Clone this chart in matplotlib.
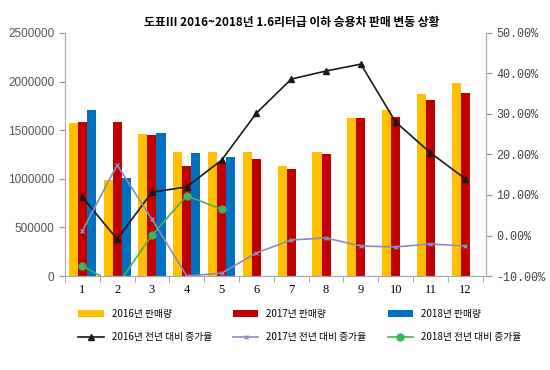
import matplotlib.pyplot as plt
import numpy as np

plt.rcParams['font.family'] = ['Noto Sans CJK KR', 'DejaVu Sans']

months = list(range(1, 13))
sales_2016 = [1574000, 988000, 1460000, 1276000, 1276000, 1280000, 1130000, 1280000, 1625000, 1710000, 1870000, 1985000]
sales_2017 = [1585000, 1585000, 1455000, 1130000, 1160000, 1200000, 1100000, 1260000, 1620000, 1640000, 1810000, 1880000]
sales_2018 = [1708000, 1008000, 1470000, 1265000, 1225000]
growth_2016 = [9.5, -0.9, 10.7, 12.0, 18.6, 30.2, 38.6, 40.6, 42.3, 28.0, 20.4, 14.0]
growth_2017 = [1.1, 17.4, 4.0, -10.0, -9.3, -4.3, -1.1, -0.6, -2.6, -2.8, -2.1, -2.6]
growth_2018 = [-7.5, -12.3, 0.1, 9.8, 6.5]

fig = plt.figure(figsize=(5.5, 3.7), dpi=100)
ax = fig.add_axes([0.118, 0.254, 0.766, 0.657])
ax2 = ax.twinx()

x = np.array(months)
w = 0.26
b16 = ax.bar(x - w, sales_2016, w, color='#FFC000', label='2016년 판매량')
b17 = ax.bar(x, sales_2017, w, color='#C00000', label='2017년 판매량')
b18 = ax.bar(x[:len(sales_2018)] + w, sales_2018, w, color='#0070C0', label='2018년 판매량')

l16, = ax2.plot(x, growth_2016, color='#1a1a1a', marker='^', ms=5, lw=1.2, label='2016년 전년 대비 증가율')
l17, = ax2.plot(x, growth_2017, color='#8C8CBE', marker='x', ms=3, lw=1.2, label='2017년 전년 대비 증가율')
l18, = ax2.plot(x[:len(growth_2018)], growth_2018, color='#4CAF50', marker='o', ms=5, lw=1.2,
                markerfacecolor='#3CB371', label='2018년 전년 대비 증가율')

ax.set_xlim(0.55, 12.6)
ax.set_ylim(0, 2500000)
yt = list(range(0, 2500001, 500000))
ax.set_yticks(yt)
ax.set_yticklabels([str(v) for v in yt], family='Liberation Sans')
ax.set_xticks(months)
ax.set_xticks(np.arange(0.5, 13, 1), minor=True)
ax.tick_params(axis='x', which='major', length=0, labelsize=8, pad=6)
ax.tick_params(axis='x', which='minor', length=4, color='#999999')
ax.tick_params(axis='y', labelsize=8.5, colors='#555555', color='#999999', length=4)
for lab in ax.get_xticklabels():
    lab.set_family('Liberation Serif')
    lab.set_fontsize(9)

ax2.set_ylim(-10, 50)
ax2.set_yticks(range(-10, 51, 10))
ax2.set_yticklabels(['%.2f%%' % v for v in range(-10, 51, 10)], family='Liberation Mono')
ax2.tick_params(axis='y', labelsize=8.5, colors='#444444', color='#999999', length=4)

for a in (ax, ax2):
    a.spines['top'].set_visible(False)
    for s in ('left', 'right', 'bottom'):
        a.spines[s].set_color('#aaaaaa')

fig.text(0.53, 0.94, '도표Ⅲ 2016~2018년 1.6리터급 이하 승용차 판매 변동 상황',
         ha='center', va='center', fontsize=8.5, fontweight='bold')

fig.legend([b16, l16, b17, l17, b18, l18],
           [h.get_label() for h in (b16, l16, b17, l17, b18, l18)],
           ncol=3, loc='center', bbox_to_anchor=(0.545, 0.12), frameon=False,
           fontsize=7, handlelength=2.6, columnspacing=2.2, labelspacing=1.3)

fig.savefig('out.png', dpi=100)
